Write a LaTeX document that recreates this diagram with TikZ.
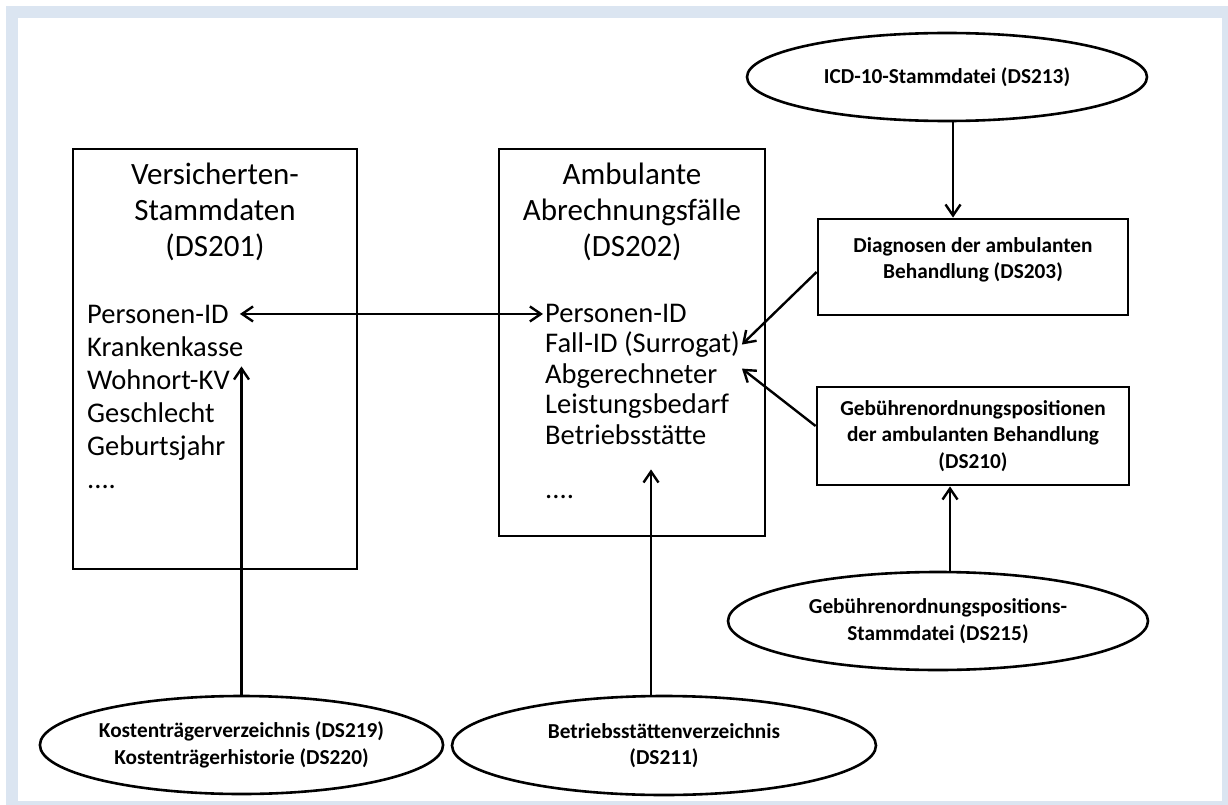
\documentclass[tikz,border=0pt]{standalone}
\usepackage{fontspec}
\setmainfont{Carlito}
\usetikzlibrary{arrows.meta,positioning,calc,shapes.geometric}
\definecolor{bandblue}{HTML}{DBE5F1}

\begin{document}
\begin{tikzpicture}[x=1pt,y=-1pt,line width=2.4pt,
 recbox/.style={draw,line width=2.8pt,inner sep=0pt},
 headtxt/.style={align=center,inner sep=0pt,font=\fontsize{31}{36}\selectfont},
 fieldtxt/.style={anchor=base west,inner sep=1pt,font=\fontsize{28.5}{33}\selectfont},
 smalltxt/.style={align=center,font=\bfseries\fontsize{21.3}{26.5}\selectfont},
 refbox/.style={draw,line width=2.8pt,smalltxt},
 srcell/.style={ellipse,draw,line width=2.6pt,inner sep=0pt,smalltxt},
 feed/.style={line width=2.4pt,-{Straight Barb[length=11pt,width=15pt]}}]
% frame
\useasboundingbox (0,0) rectangle (1228,805);
\fill[bandblue] (6,6) rectangle (1228,805);
\fill[white] (18,18) rectangle (1222,801);

% main tables
\node[recbox,minimum width=284pt,minimum height=420pt] (vers) at (215,359) {};
\node[headtxt] (versHead) at (215,212) {Versicherten-\\Stammdaten\\(DS201)};
\foreach \txt [count=\i] in {Personen-ID,Krankenkasse,Wohnort-KV,Geschlecht,Geburtsjahr}
 \node[fieldtxt] (v\i) at (85,{323+33*(\i-1)}) {\txt};
\node[fieldtxt] (v6) at (85,488) {....};

\node[recbox,minimum width=266pt,minimum height=387pt] (amb) at (632,342.5) {};
\node[headtxt] (ambHead) at (632,212) {Ambulante\\Abrechnungsfälle\\(DS202)};
\foreach \txt [count=\i] in {Personen-ID,Fall-ID (Surrogat),Abgerechneter,Leistungsbedarf,Betriebsstätte}
 \node[fieldtxt] (a\i) at (543,{322+30.5*(\i-1)}) {\txt};
\node[fieldtxt] (a6) at (543,498) {....};

% side tables
\node[refbox,minimum width=310pt,minimum height=96pt] (diag) at (973,267) {};
\node[smalltxt] (diagTxt) at (973,260) {Diagnosen der ambulanten\\Behandlung (DS203)};
\node[refbox,minimum width=312pt,minimum height=98pt] (geb) at (973,436)
 {Gebührenordnungspositionen\\der ambulanten Behandlung\\(DS210)};

% reference files
\node[srcell,minimum width=400pt,minimum height=88pt] (icd) at (947,77) {ICD-10-Stammdatei (DS213)};
\node[srcell,minimum width=420pt,minimum height=98pt] (gebs) at (938,621)
 {Gebührenordnungspositions-\\Stammdatei (DS215)};
\node[srcell,minimum width=403pt,minimum height=98pt] (kost) at (241.5,745)
 {Kostenträgerverzeichnis (DS219)\\Kostenträgerhistorie (DS220)};
\node[srcell,minimum width=424pt,minimum height=99pt] (betr) at (664,745.5)
 {Betriebsstättenverzeichnis\\(DS211)};

% links
\draw[feed,{Straight Barb[length=11pt,width=15pt]}-{Straight Barb[length=11pt,width=15pt]}]
 ([xshift=9pt]v1.east) -- (v1.east -| a1.west);
\draw[feed,shorten >=8pt] (kost.north) -- (kost.north |- v2.south);
\draw[feed,shorten >=23pt] ([xshift=-13pt]betr.north) -- ([xshift=-13pt]betr.north |- a5.south);
\draw[feed] ([xshift=6pt]icd.south) -- ([xshift=6pt]icd.south |- diag.north);
\draw[feed] ([yshift=-5pt]diag.west) -- (a2.east);
\draw[feed] ([yshift=10pt]geb.west) -- ([yshift=-9pt]a2.south east);
\draw[feed] ([xshift=12pt]gebs.north) -- ([xshift=12pt]gebs.north |- geb.south);
\end{tikzpicture}
\end{document}
